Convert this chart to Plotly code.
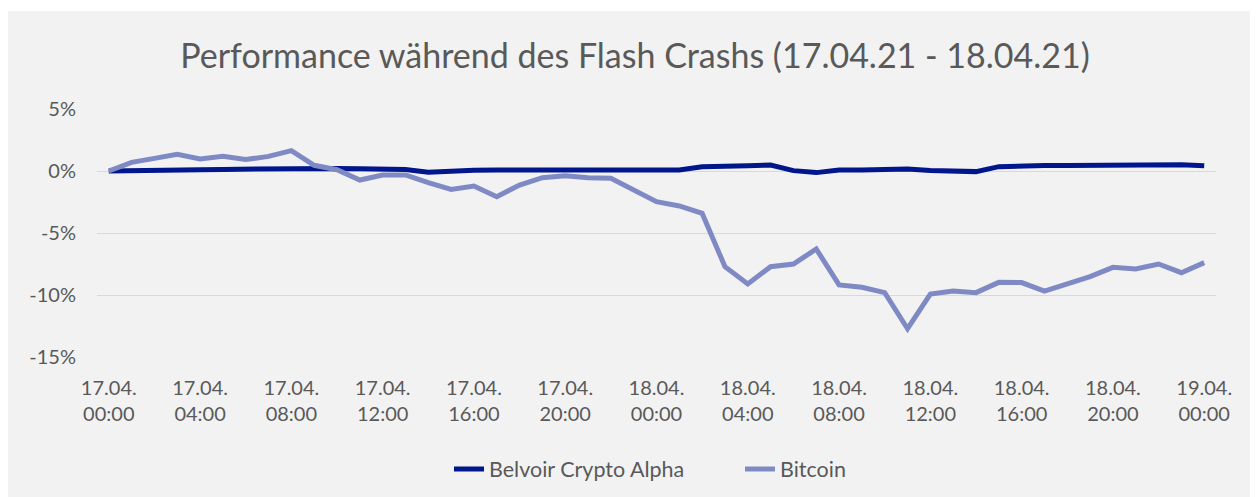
import pandas as pd
import plotly.graph_objects as go

# ---- data ----
timestamps = pd.date_range("2021-04-17 00:00", periods=49, freq="h")

belvoir = [0.00, 0.00, 0.00, 0.05, 0.10, 0.13, 0.16, 0.19, 0.19, 0.19,
           0.21, 0.18, 0.12, 0.12, -0.10, 0.03, 0.06, 0.08, 0.03, 0.08,
           0.08, 0.10, 0.08, 0.06, 0.08, 0.08, 0.35, 0.43, 0.43, 0.48,
           0.03, -0.13, 0.08, 0.08, 0.08, 0.16, 0.05, 0.05, -0.05, 0.35,
           0.43, 0.45, 0.45, 0.47, 0.51, 0.51, 0.56, 0.51, 0.42]

bitcoin = [0.00, 0.70, 1.02, 1.35, 0.97, 1.18, 0.92, 1.18, 1.64, 0.46,
           0.10, -0.73, -0.32, -0.32, -0.94, -1.48, -1.21, -2.07, -1.13, -0.54,
           -0.38, -0.54, -0.59, -1.53, -2.47, -2.82, -3.41, -7.72, -9.11, -7.72,
           -7.50, -6.29, -9.19, -9.38, -9.81, -12.72, -9.92, -9.68, -9.81, -8.98,
           -9.00, -9.68, -9.11, -8.52, -7.77, -7.90, -7.50, -8.20, -7.39]

x_tick_vals = ["2021-04-17 00:00", "2021-04-17 04:00", "2021-04-17 08:00",
               "2021-04-17 12:00", "2021-04-17 16:00", "2021-04-17 20:00",
               "2021-04-18 00:00", "2021-04-18 04:00", "2021-04-18 08:00",
               "2021-04-18 12:00", "2021-04-18 16:00", "2021-04-18 20:00",
               "2021-04-19 00:00"]
x_tick_text = ["17.04.<br>00:00", "17.04.<br>04:00", "17.04.<br>08:00",
               "17.04.<br>12:00", "17.04.<br>16:00", "17.04.<br>20:00",
               "18.04.<br>00:00", "18.04.<br>04:00", "18.04.<br>08:00",
               "18.04.<br>12:00", "18.04.<br>16:00", "18.04.<br>20:00",
               "19.04.<br>00:00"]
y_tick_vals = [-15, -10, -5, 0, 5]
y_tick_text = ["-15%", "-10%", "-5%", "0%", "5%"]

title_text = "Performance während des Flash Crashs (17.04.21 - 18.04.21)"

# ---- figure ----
FONT = "Lato, 'Open Sans', sans-serif"
TXT = "#595959"
W, H = 1258, 497
# page is offset by the 8px body margin
ML, MR, MT, MB = 89, 50, 101, 148
PW, PH = W - ML - MR, H - MT - MB


def px_x(p):
    return (p - ML) / PW


def px_y(p):
    return (H - MB - p) / PH


fig = go.Figure()
fig.add_trace(go.Scatter(x=timestamps, y=belvoir, mode="lines",
                         name="Belvoir Crypto Alpha",
                         line=dict(color="#00168C", width=5)))
fig.add_trace(go.Scatter(x=timestamps, y=bitcoin, mode="lines",
                         name="Bitcoin",
                         line=dict(color="#7F8AC5", width=5)))

# thin white strip at the very top
fig.add_shape(type="rect", xref="paper", yref="paper",
              x0=px_x(-2), x1=px_x(W + 2), y0=px_y(3), y1=px_y(-2),
              fillcolor="white", line=dict(width=0), layer="above")

fig.update_layout(
    width=W, height=H,
    margin=dict(l=ML, r=MR, t=MT, b=MB),
    paper_bgcolor="#F2F2F2", plot_bgcolor="#F2F2F2",
    font=dict(family=FONT, color=TXT, size=20),
    title=dict(text=title_text, x=627 / W, xref="container", xanchor="center",
               y=1 - 48 / H, yref="container", yanchor="middle",
               font=dict(family=FONT, size=34, color=TXT)),
    showlegend=True,
    legend=dict(orientation="h", x=px_x(732), xanchor="center",
                y=px_y(461), yanchor="middle",
                entrywidth=246, entrywidthmode="pixels",
                font=dict(family=FONT, size=21.5, color=TXT),
                bgcolor="rgba(0,0,0,0)"),
    xaxis=dict(type="date",
               range=["2021-04-16 23:29", "2021-04-19 00:31"],
               tickvals=x_tick_vals, ticktext=x_tick_text,
               showgrid=False, zeroline=False, showline=False,
               ticks="outside", ticklen=13, tickcolor="rgba(0,0,0,0)",
               tickfont=dict(family=FONT, size=20, color=TXT)),
    yaxis=dict(range=[-15, 5], tickvals=y_tick_vals, ticktext=y_tick_text,
               showgrid=True, gridcolor="#D9D9D9", gridwidth=1.3,
               zeroline=False, showline=False,
               ticks="outside", ticklen=16, tickcolor="rgba(0,0,0,0)",
               tickfont=dict(family=FONT, size=20, color=TXT)),
)

fig.write_html("out.html")
